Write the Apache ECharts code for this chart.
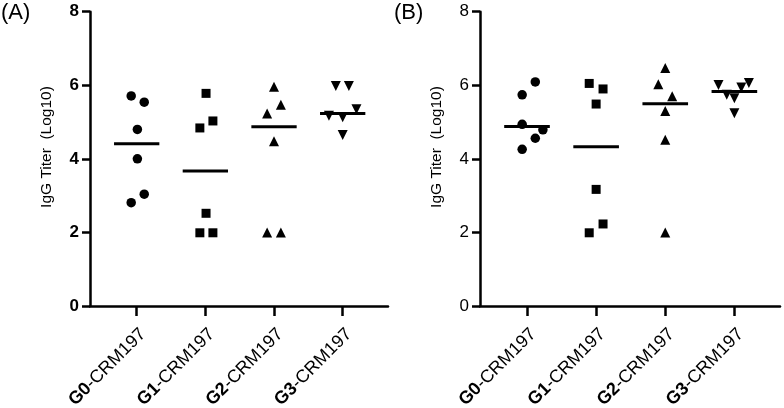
<!DOCTYPE html>
<html><head><meta charset="utf-8">
<script src="https://cdn.jsdelivr.net/npm/echarts@6/dist/echarts.min.js"></script>
<style>html,body{margin:0;padding:0;background:#fff}#c{width:784px;height:408px}</style>
</head><body><div id="c"></div>
<script>
const categories = ['G0', 'G1', 'G2', 'G3'];
const suffix = '-CRM197';
const yTicks = [0, 2, 4, 6, 8];
const yName = 'IgG Titer  (Log10)';

// Panel A values (log10 titer) and horizontal jitter (category units)
const a_G0 = [5.71, 5.54, 4.80, 4.00, 3.04, 2.81];
const a_G0_jit = [-0.08, 0.11, 0.01, 0.01, 0.11, -0.08];
const a_G1 = [5.78, 5.03, 4.84, 2.52, 1.99, 1.99];
const a_G1_jit = [0.01, 0.11, -0.08, 0.01, -0.08, 0.11];
const a_G2 = [5.96, 5.47, 5.23, 4.48, 2.0, 2.0];
const a_G2_jit = [0, 0.1, -0.1, 0, -0.1, 0.1];
const a_G3 = [5.98, 5.98, 5.35, 5.17, 5.13, 4.65];
const a_G3_jit = [-0.1, 0.09, 0.2, -0.2, 0, 0];
const a_median = [4.41, 3.67, 4.87, 5.23];

// Panel B
const b_G0 = [6.09, 5.74, 4.94, 4.79, 4.56, 4.26];
const b_G0_jit = [0.12, -0.07, -0.07, 0.23, 0.12, -0.07];
const b_G1 = [6.05, 5.90, 5.49, 3.17, 2.23, 1.99];
const b_G1_jit = [-0.1, 0.1, 0, 0, 0.1, -0.1];
const b_G2 = [6.47, 6.03, 5.70, 5.30, 4.52, 2.0];
const b_G2_jit = [0, -0.1, 0.1, 0, 0, 0];
const b_G3 = [6.01, 6.06, 5.94, 5.74, 5.65, 5.24];
const b_G3_jit = [-0.23, 0.21, 0.1, -0.11, 0, 0];
const b_median = [4.88, 4.33, 5.50, 5.83];

const FONT = 'Liberation Sans, Arial, sans-serif';
const symbols = [
  {symbol: 'circle', rotate: 0, size: 9.5},
  {symbol: 'rect', rotate: 0, size: 9},
  {symbol: 'triangle', rotate: 0, size: 10},
  {symbol: 'triangle', rotate: 180, size: 10}
];
const panels = [
  {groups: [[a_G0, a_G0_jit], [a_G1, a_G1_jit], [a_G2, a_G2_jit], [a_G3, a_G3_jit]], median: a_median, boldY: true},
  {groups: [[b_G0, b_G0_jit], [b_G1, b_G1_jit], [b_G2, b_G2_jit], [b_G3, b_G3_jit]], median: b_median, boldY: false}
];

const grids = [
  {left: 90, top: 11.7, width: 298, height: 294.3, containLabel: false, outerBoundsMode: 'none'},
  {left: 480, top: 11.7, width: 300, height: 294.3, containLabel: false, outerBoundsMode: 'none'}
];

const xAxes = [], yAxes = [], series = [];
panels.forEach((p, pi) => {
  xAxes.push({
    type: 'value', gridIndex: pi, min: -0.68, max: 3.66,
    splitLine: {show: false},
    axisLine: {show: true, onZero: false, lineStyle: {color: '#000', width: 2.5}},
    axisTick: {show: true, customValues: [0, 1, 2, 3], length: 10, lineStyle: {color: '#000', width: 2.5}},
    axisLabel: {
      show: true, customValues: [0, 1, 2, 3], rotate: 45, margin: 19, verticalAlign: 'top',
      formatter: v => '{b|' + categories[Math.round(v)] + '}{n|' + suffix + '}',
      rich: {
        b: {fontFamily: FONT, fontSize: 18, fontWeight: 'bold', color: '#000'},
        n: {fontFamily: FONT, fontSize: 18, color: '#000'}
      }
    }
  });
  yAxes.push({
    type: 'value', gridIndex: pi, min: 0, max: 8, interval: 2,
    splitLine: {show: false},
    axisLine: {show: true, onZero: false, lineStyle: {color: '#000', width: 2.5}},
    axisTick: {show: true, length: 8, lineStyle: {color: '#000', width: 2.5}},
    axisLabel: {margin: 11, fontFamily: FONT, fontSize: 17, fontWeight: p.boldY ? 'bold' : 'normal', color: '#000'}
  });
  p.groups.forEach((g, gi) => {
    const [vals, jit] = g;
    series.push({
      type: 'scatter', xAxisIndex: pi, yAxisIndex: pi,
      symbol: symbols[gi].symbol, symbolRotate: symbols[gi].rotate, symbolSize: symbols[gi].size,
      itemStyle: {color: '#000', opacity: 1},
      data: vals.map((v, k) => [gi + jit[k], v]),
      silent: true, animation: false
    });
  });
  series.push({
    type: 'custom', xAxisIndex: pi, yAxisIndex: pi,
    data: p.median.map((m, gi) => [gi, m]),
    renderItem: (params, api) => {
      const i = api.value(0), m = api.value(1);
      const s = api.coord([i - 0.33, m]), e = api.coord([i + 0.33, m]);
      return {type: 'line', shape: {x1: s[0], y1: s[1], x2: e[0], y2: e[1]}, style: {stroke: '#000', lineWidth: 3}};
    },
    silent: true, animation: false
  });
});

const chart = echarts.init(document.getElementById('c'), null, {renderer: 'canvas'});
chart.setOption({
  animation: false,
  backgroundColor: '#fff',
  grid: grids,
  xAxis: xAxes,
  yAxis: yAxes,
  series: series,
  graphic: [
    {type: 'text', left: 1, top: 2, style: {text: '(A)', fontFamily: FONT, fontSize: 22, fill: '#000'}},
    {type: 'text', left: 394, top: 2, style: {text: '(B)', fontFamily: FONT, fontSize: 22, fill: '#000'}},
    {type: 'text', x: 47, y: 147, rotation: Math.PI / 2, style: {text: yName, fontFamily: FONT, fontSize: 15.5, fill: '#000', align: 'center', verticalAlign: 'middle'}},
    {type: 'text', x: 437, y: 147, rotation: Math.PI / 2, style: {text: yName, fontFamily: FONT, fontSize: 15.5, fill: '#000', align: 'center', verticalAlign: 'middle'}}
  ]
});
</script></body></html>
